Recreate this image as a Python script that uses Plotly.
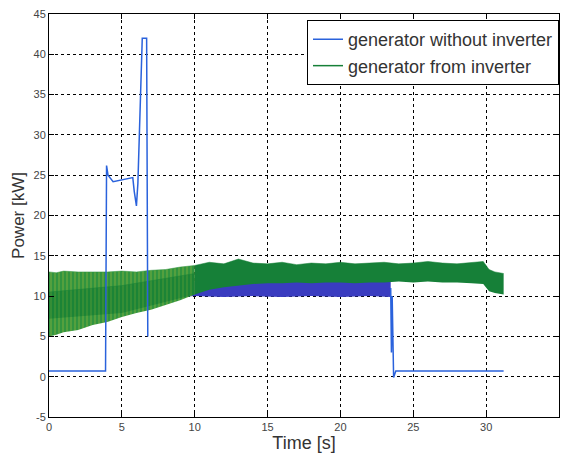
import plotly.graph_objects as go

# ---- data ----
# blue: generator without inverter (step / spike part)
blue_t1 = [0, 3.88, 3.95, 4.05, 4.4, 5.0, 5.75, 5.85, 6.0, 6.1, 6.4, 6.7, 6.78]
blue_p1 = [0.7, 0.7, 26.2, 25.0, 24.2, 24.4, 24.7, 23.0, 21.2, 24.0, 42.0, 42.0, 5.0]
# blue: oscillating region envelope
blue_band_t = [6.78, 9, 10, 12, 14, 16, 18, 20, 22, 23.45]
blue_band_hi = [11.8, 11.8, 11.8, 11.8, 11.8, 11.8, 11.8, 11.8, 11.8, 11.8]
blue_band_lo = [9.6, 9.9, 10.0, 9.9, 10.0, 9.9, 10.0, 9.9, 10.0, 9.9]
# blue: switch-off part
blue_t2 = [23.45, 23.5, 23.55, 23.65, 23.8, 31.2]
blue_p2 = [11.0, 3.0, 10.0, -0.1, 0.7, 0.7]

# green: generator from inverter (envelope of the fast oscillation)
green_t1 = [0, 0.5, 1, 2, 3, 4, 5, 6, 7, 8, 9, 10]
green_hi1 = [13.0, 12.9, 13.1, 13.0, 13.0, 13.0, 13.1, 13.0, 13.2, 13.3, 13.6, 13.8]
green_lo1 = [5.0, 5.2, 5.5, 5.8, 6.4, 6.8, 7.4, 7.9, 8.3, 8.9, 9.5, 10.2]
core_t = [0, 5, 10]
core_hi = [10.5, 11.3, 12.8]
core_lo = [7.2, 7.9, 10.2]
green_t2 = [10, 11, 12, 13, 14, 15, 16, 17, 18, 19, 20, 21, 22, 23, 24, 25, 26,
            27, 28, 29, 29.8, 30.2, 30.6, 31.2]
green_hi2 = [13.8, 14.2, 14.0, 14.6, 14.1, 14.0, 14.2, 13.9, 14.1, 14.0, 14.2, 14.0,
             14.1, 14.2, 14.0, 14.1, 14.3, 14.1, 14.0, 14.2, 14.3, 13.3, 13.0, 12.8]
green_lo2 = [10.2, 10.8, 11.1, 11.3, 11.5, 11.6, 11.6, 11.7, 11.6, 11.7, 11.7, 11.6,
             11.7, 11.7, 11.8, 11.7, 11.8, 11.7, 11.7, 11.6, 11.5, 10.6, 10.4, 10.2]

x_ticks = [0, 5, 10, 15, 20, 25, 30, 35]
y_ticks = [-5, 0, 5, 10, 15, 20, 25, 30, 35, 40, 45]

BLUE = "#2a62dc"
BLUE_DARK = "#3a3cc0"
GREEN = "#168038"

fig = go.Figure()


def band(t, hi, lo, color, pattern=None):
    fig.add_trace(go.Scatter(x=t, y=lo, mode="lines", line=dict(width=0, color=color),
                             showlegend=False, hoverinfo="skip"))
    kw = dict(x=t, y=hi, mode="lines", line=dict(width=0.5, color=color), fill="tonexty",
              fillcolor=color, showlegend=False, hoverinfo="skip")
    if pattern:
        kw["fillpattern"] = pattern
    fig.add_trace(go.Scatter(**kw))


band(blue_band_t, blue_band_hi, blue_band_lo, BLUE_DARK)
band(green_t1, green_hi1, green_lo1, "#31943f",
     dict(shape="|", bgcolor="#31943f", fgcolor="#bcc43c", size=4, solidity=0.25))
band(core_t, core_hi, core_lo, "#1c8436",
     dict(shape="|", bgcolor="#1c8436", fgcolor="#9cb236", size=4, solidity=0.2))
band(green_t2, green_hi2, green_lo2, GREEN)

fig.add_trace(go.Scatter(x=blue_t1, y=blue_p1, mode="lines", line=dict(color=BLUE, width=1.5),
                         showlegend=False))
fig.add_trace(go.Scatter(x=blue_t2, y=blue_p2, mode="lines", line=dict(color=BLUE, width=1.5),
                         showlegend=False))

# legend entries
fig.add_trace(go.Scatter(x=[None], y=[None], mode="lines", line=dict(color=BLUE, width=1.5),
                         name="generator without inverter"))
fig.add_trace(go.Scatter(x=[None], y=[None], mode="lines", line=dict(color=GREEN, width=1.5),
                         name="generator from inverter"))

axis_common = dict(
    showline=True, linecolor="black", linewidth=1, mirror="ticks",
    ticks="inside", ticklen=5, tickcolor="black",
    showgrid=True, gridcolor="black", gridwidth=1, griddash="dot",
    zeroline=False, tickfont=dict(size=11, color="#444"), automargin=False,
)

fig.update_layout(
    width=564, height=457, autosize=False,
    margin=dict(l=49, r=5, t=14, b=40, autoexpand=False),
    paper_bgcolor="white", plot_bgcolor="white",
    font=dict(family="Liberation Sans, Arial, sans-serif", color="#333"),
    xaxis=dict(range=[0, 35], tickvals=x_ticks, ticktext=[str(v) for v in x_ticks],
               title=dict(text="Time [s]", font=dict(size=18, color="#333"), standoff=2),
               **axis_common),
    yaxis=dict(range=[-5, 45], tickvals=y_ticks, ticktext=[str(v) for v in y_ticks],
               title=dict(text="Power [kW]", font=dict(size=17, color="#333"), standoff=4),
               **axis_common),
    legend=dict(x=1.0, xanchor="right", y=0.985, yanchor="top", traceorder="normal",
                bgcolor="white", bordercolor="black", borderwidth=1,
                font=dict(size=18, color="#333"), tracegroupgap=0),
)

fig.write_html("out.html", config={"displayModeBar": False},
               post_script="document.body.style.margin='0';document.body.style.padding='0';")
